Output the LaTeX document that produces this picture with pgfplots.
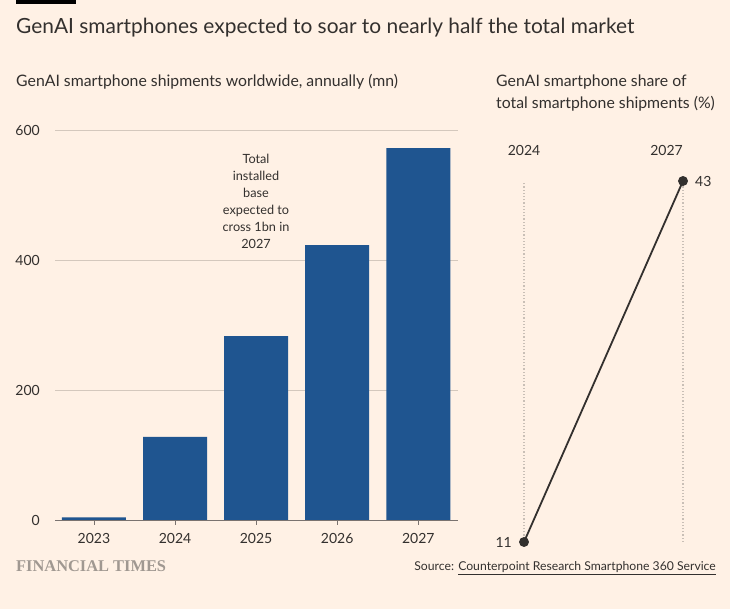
\documentclass[border=0pt]{standalone}
\usepackage{pgfplots}
\pgfplotsset{compat=1.18}
\usepackage{fontspec}
\setmainfont{Lato}
\newfontfamily\ftserif{Liberation Serif}
\definecolor{ftbg}{HTML}{FFF1E5}
\definecolor{ftblue}{HTML}{1F5590}
\definecolor{fttext}{HTML}{33302E}
\definecolor{ftgrid}{HTML}{D4C8BD}
\definecolor{ftaxis}{HTML}{7A7370}
\definecolor{ftdot}{HTML}{C9BFB6}
\definecolor{ftlogo}{HTML}{A09891}
\begin{document}
\begin{tikzpicture}
\fill[ftbg] (0bp,0bp) rectangle (730bp,609bp);
\fill[black] (16bp,605bp) rectangle (76bp,609bp);
\node[anchor=west, inner sep=0pt, text=fttext, font=\fontsize{20.9bp}{24bp}\selectfont] at (16bp,581bp) {GenAI smartphones expected to soar to nearly half the total market};
\node[anchor=west, inner sep=0pt, text=fttext, font=\fontsize{15.8bp}{18bp}\selectfont] at (16bp,527bp) {GenAI smartphone shipments worldwide, annually (mn)};
\node[anchor=west, inner sep=0pt, text=fttext, font=\fontsize{15.8bp}{18bp}\selectfont] at (496bp,527bp) {GenAI smartphone share of};
\node[anchor=west, inner sep=0pt, text=fttext, font=\fontsize{15.8bp}{18bp}\selectfont] at (496bp,505bp) {total smartphone shipments (\%)};

\begin{axis}[
  at={(55bp,89bp)}, anchor=south west,
  scale only axis, width=403bp, height=390bp,
  xmin=-0.48, xmax=4.49, ymin=0, ymax=600,
  axis x line*=bottom, axis y line*=left,
  y axis line style={draw=none},
  x axis line style={draw=ftaxis, line width=0.8bp, -},
  ytick={0,200,400,600},
  ymajorgrids, grid style={draw=ftgrid, line width=0.8bp},
  ytick style={draw=none},
  xtick={0,1,2,3,4},
  xticklabels={2023,2024,2025,2026,2027},
  xtick align=outside,
  major tick length=5bp,
  xtick style={draw=ftaxis, line width=0.8bp},
  /pgf/number format/assume math mode=true,
  ticklabel style={font=\fontsize{14bp}{16bp}\selectfont, text=fttext},
  yticklabel style={anchor=east, inner sep=0pt, xshift=-15bp},
  xticklabel style={anchor=north, inner sep=0pt, yshift=-8bp},
  clip=false,
]
\addplot[ybar, bar width=64bp, fill=ftblue, draw=none] coordinates {(0,4) (1,128) (2,283) (3,423) (4,572)};
\end{axis}

\node[align=center, text=fttext, font=\fontsize{12.7bp}{17bp}\selectfont, inner sep=0pt] at (256bp,407.5bp) {Total\\installed\\base\\expected to\\cross 1bn in\\2027};

\begin{axis}[
  at={(524bp,67bp)}, anchor=south west,
  scale only axis, width=159bp, height=361bp,
  xmin=2024, xmax=2027, ymin=11, ymax=43,
  hide axis, clip=false,
]
\addplot[ftdot, line width=1.2bp, dotted] coordinates {(2024,11) (2024,42.9)};
\addplot[ftdot, line width=1.2bp, dotted] coordinates {(2027,11) (2027,42.9)};
\addplot[fttext, line width=1.8bp, mark=*, mark size=4bp, mark options={fill=fttext, draw=fttext}] coordinates {(2024,11) (2027,43)};
\end{axis}

\node[inner sep=0pt, text=fttext, font=\fontsize{14bp}{16bp}\selectfont] at (524bp,459bp) {2024};
\node[anchor=east, inner sep=0pt, text=fttext, font=\fontsize{14bp}{16bp}\selectfont] at (683bp,459bp) {2027};
\node[anchor=east, inner sep=0pt, text=fttext, font=\fontsize{14bp}{16bp}\selectfont] at (512bp,67bp) {11};
\node[anchor=west, inner sep=0pt, text=fttext, font=\fontsize{14bp}{16bp}\selectfont] at (695bp,428bp) {43};

\node[anchor=west, inner sep=0pt, text=ftlogo, font=\ftserif\bfseries\fontsize{16.4bp}{18bp}\selectfont] at (16bp,43bp) {FINANCIAL TIMES};
\node[anchor=east, inner sep=0pt, text=fttext, font=\fontsize{12.2bp}{15bp}\selectfont] at (716bp,41bp) {Source: \underline{Counterpoint Research Smartphone 360 Service}};
\end{tikzpicture}
\end{document}
